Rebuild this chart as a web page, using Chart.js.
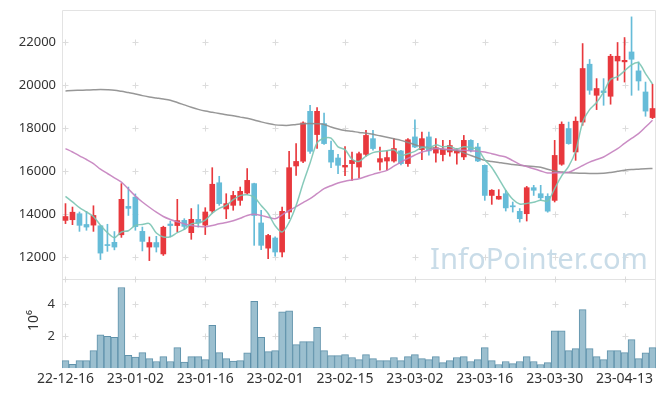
<!DOCTYPE html>
<html>
<head>
<meta charset="utf-8">
<script src="https://cdn.jsdelivr.net/npm/chart.js@4.4.0/dist/chart.umd.min.js"></script>
<style>
  html, body { margin: 0; padding: 0; background: #fff; }
  canvas { display: block; }
</style>
</head>
<body>
<canvas id="chart" width="665" height="396"></canvas>
<script>
// trading days shown on the x axis
const dates = [
  '22-12-16','22-12-19','22-12-20','22-12-21','22-12-22','22-12-23','22-12-26','22-12-27','22-12-28','22-12-29',
  '23-01-02','23-01-03','23-01-04','23-01-05','23-01-06','23-01-09','23-01-10','23-01-11','23-01-12','23-01-13',
  '23-01-16','23-01-17','23-01-18','23-01-19','23-01-20','23-01-25','23-01-26','23-01-27','23-01-30','23-01-31',
  '23-02-01','23-02-02','23-02-03','23-02-06','23-02-07','23-02-08','23-02-09','23-02-10','23-02-13','23-02-14',
  '23-02-15','23-02-16','23-02-17','23-02-20','23-02-21','23-02-22','23-02-23','23-02-24','23-02-27','23-02-28',
  '23-03-02','23-03-03','23-03-06','23-03-07','23-03-08','23-03-09','23-03-10','23-03-13','23-03-14','23-03-15',
  '23-03-16','23-03-17','23-03-20','23-03-21','23-03-22','23-03-23','23-03-24','23-03-27','23-03-28','23-03-29',
  '23-03-30','23-03-31','23-04-03','23-04-04','23-04-05','23-04-06','23-04-07','23-04-10','23-04-11','23-04-12',
  '23-04-13','23-04-14','23-04-17','23-04-18','23-04-19'
];

const openPrices = [
  13720,13750,14030,13530,13500,13470,12580,12700,13050,14370,
  14800,13210,12480,12690,12160,13550,13480,13720,13150,13770,
  13500,14160,15470,14250,14420,14650,14990,15430,13600,12430,
  12900,12250,14110,16250,16470,18790,17710,18220,16980,16620,
  16200,16360,16200,16790,17520,16430,16480,16480,16950,16360,
  17600,17010,17600,16850,16780,16900,16850,16670,17440,17130,
  16280,14880,14710,14960,14400,14140,14030,15240,14960,14840,
  14650,16330,17990,16900,18290,20980,19535,19740,19490,21130,
  21090,21550,20670,19690,18500
];
const highPrices = [
  14500,14340,14110,14140,14400,13500,13540,13200,15430,15270,
  14950,13410,12950,12980,13450,13690,14700,13800,14270,14450,
  14310,16170,15770,14960,15070,15270,16130,15450,14190,13070,
  12950,14340,16930,17290,18300,19070,18960,18710,17410,16790,
  17150,16900,16900,17910,17910,17130,16950,17520,16980,17520,
  18400,17830,17830,17520,17440,17440,17060,17670,17470,17300,
  16300,15150,15150,15117,14575,14270,15300,15350,15350,14960,
  17440,18300,18290,18530,21940,21200,20310,20310,21440,21990,
  22220,23180,21090,20150,20050
];
const lowPrices = [
  13570,13520,13210,13260,13210,11900,12280,12350,12930,13950,
  13260,12300,11850,12250,12090,12950,13180,13290,12840,13410,
  13060,14060,14420,13800,14190,14420,14930,12560,12360,11940,
  12060,12020,13800,15815,16400,16830,17060,17250,16170,15890,
  15800,15580,15710,16700,16980,16050,16050,16430,16300,16230,
  17100,16545,16750,16430,16480,16700,16330,16545,16900,16450,
  14650,14465,14700,14155,14107,13640,13690,14880,14650,14100,
  14575,16280,17260,16510,18140,19580,18870,19070,19120,20230,
  20150,19535,19770,18560,18450
];
const closePrices = [
  13900,14100,13490,13410,13950,12200,12550,12480,14700,14280,
  13430,12745,12690,12480,13400,13480,13710,13440,13770,13600,
  14110,15400,14500,14500,14880,15070,15580,13950,12560,13020,
  12250,14140,16170,16460,18250,16930,18790,17290,16430,16280,
  16280,16510,16820,17670,17060,16590,16640,17060,16360,17470,
  17130,17520,16950,17100,17020,17200,16930,17440,16980,16480,
  14880,15120,14840,14300,14350,13800,15240,15120,14770,14150,
  16740,18190,17290,18330,20780,19770,19850,19660,21350,21350,
  21160,21210,20200,18800,18920
];

// moving averages as drawn on the chart
const ma5 = [
  14840,14580,14310,14110,13900,13500,13150,12920,13180,13240,
  13490,13530,13570,13130,12950,12960,13150,13300,13560,13600,
  13730,14060,14280,14420,14680,14870,14910,14800,14410,14040,
  13470,13180,13630,14410,15450,16390,17320,17540,17540,17140,
  17010,16560,16460,16710,16870,16930,16960,17000,16740,16820,
  16930,17110,17090,17230,17140,17160,17040,17140,17110,17010,
  16540,16180,15660,15120,14700,14480,14510,14560,14660,14620,
  15200,15790,16230,16940,18270,18870,19200,19680,20280,20400,
  20670,20950,21050,20540,20060
];
const ma20 = [
  17056,16900,16720,16550,16360,16100,15900,15700,15500,15180,
  14850,14575,14330,14100,13900,13760,13650,13560,13480,13440,
  13420,13480,13560,13620,13700,13820,13950,14000,13950,13870,
  13800,13980,14180,14360,14550,14730,14960,15195,15330,15460,
  15540,15600,15660,15760,15860,15950,16047,16240,16430,16600,
  16760,16900,16980,17056,17040,17020,17000,16980,16950,16930,
  16900,16820,16740,16667,16500,16326,16220,16120,16020,15923,
  15930,15940,15953,16100,16270,16430,16550,16667,16860,17056,
  17300,17530,17753,18060,18372
];
const ma60 = [
  19740,19760,19770,19780,19790,19800,19790,19770,19720,19660,
  19600,19520,19460,19410,19360,19300,19200,19090,18980,18880,
  18800,18745,18690,18630,18580,18520,18465,18390,18300,18220,
  18160,18140,18140,18180,18210,18220,18210,18180,18060,17970,
  17900,17860,17810,17770,17720,17650,17580,17510,17440,17340,
  17240,17140,17100,17070,17030,17000,16970,16860,16740,16620,
  16510,16460,16410,16360,16320,16280,16250,16220,16190,16100,
  16020,15970,15930,15920,15910,15900,15900,15910,15950,16000,
  16050,16080,16100,16120,16130
];

// volume, in millions of shares
const volumes = [
  0.48,0.25,0.48,0.48,1.10,2.10,2.00,1.94,5.06,0.81,
  0.69,0.98,0.60,0.42,0.73,0.42,1.29,0.38,0.73,0.73,
  0.54,2.69,0.98,0.60,0.44,0.48,0.96,4.19,1.94,1.04,
  1.10,3.54,3.60,1.48,1.67,1.67,2.56,1.10,0.79,0.79,
  0.85,0.67,0.54,0.85,0.60,0.48,0.48,0.67,0.48,0.73,
  0.85,0.60,0.54,0.73,0.35,0.48,0.67,0.73,0.42,0.54,
  1.29,0.48,0.23,0.42,0.29,0.42,0.73,0.42,0.23,0.35,
  2.35,2.35,1.10,1.23,3.67,1.23,0.73,0.54,1.10,1.10,
  0.98,1.79,0.60,0.96,1.29
];

const priceTicks = [12000, 14000, 16000, 18000, 20000, 22000];
const volumeTicks = [2, 4];

const UP = '#e8383d';
const DOWN = '#66bcd8';
const candleColors = openPrices.map((o, i) => closePrices[i] >= o ? UP : DOWN);

const font = { family: '"Noto Sans", sans-serif', size: 13 };

// crosses at grid intersections, panel frame, watermark and the 10^6 unit
const decorations = {
  id: 'decorations',
  beforeDatasetsDraw(chart) {
    const { ctx, chartArea, scales } = chart;
    const { x, y, yv } = scales;
    ctx.save();

    ctx.strokeStyle = '#e3e3e3';
    ctx.lineWidth = 1;
    ctx.beginPath();
    ctx.moveTo(chartArea.left + 0.5, chartArea.bottom);
    ctx.lineTo(chartArea.left + 0.5, chartArea.top + 0.5);
    ctx.lineTo(chartArea.right - 0.5, chartArea.top + 0.5);
    ctx.lineTo(chartArea.right - 0.5, chartArea.bottom);
    ctx.moveTo(chartArea.left, Math.round(yv.top) + 0.5);
    ctx.lineTo(chartArea.right, Math.round(yv.top) + 0.5);
    ctx.stroke();

    const xs = [];
    dates.forEach((d, i) => { if (i % 10 === 0) xs.push(Math.round(x.getPixelForValue(i)) + 0.5); });
    const ys = priceTicks.map(v => y.getPixelForValue(v))
      .concat(volumeTicks.map(v => yv.getPixelForValue(v)))
      .concat([yv.top]);
    ctx.strokeStyle = '#dcdcdc';
    ctx.beginPath();
    xs.forEach(px => {
      ys.forEach(py => {
        py = Math.round(py) + 0.5;
        ctx.moveTo(px - 3, py); ctx.lineTo(px + 3, py);
        ctx.moveTo(px, py - 3); ctx.lineTo(px, py + 3);
      });
    });
    ctx.stroke();

    // watermark
    ctx.fillStyle = '#c9dce8';
    let size = 34;
    ctx.font = size + 'px "Noto Sans", sans-serif';
    const w = ctx.measureText('InfoPointer.com').width;
    size = size * 218 / w;
    ctx.font = size + 'px "Noto Sans", sans-serif';
    ctx.textBaseline = 'alphabetic';
    ctx.fillText('InfoPointer.com', 430, 269);

    // unit label of the volume pane
    ctx.translate(34, (yv.top + yv.bottom) / 2 - 3);
    ctx.rotate(-Math.PI / 2);
    ctx.fillStyle = '#333';
    ctx.font = '14px "Noto Sans", sans-serif';
    ctx.textAlign = 'center';
    ctx.textBaseline = 'middle';
    ctx.fillText('10\u2076', 0, 0);
    ctx.restore();
  }
};

// fixed axis width, and no extra room reserved for half tick labels
const fixWidth = scale => {
  scale.width = 62;
  scale.paddingTop = 0;
  scale.paddingBottom = 0;
};

new Chart(document.getElementById('chart'), {
  type: 'bar',
  data: {
    labels: dates,
    datasets: [
      { type: 'line', label: 'MA5', data: ma5, yAxisID: 'y', borderColor: 'rgba(122,196,178,0.9)',
        borderWidth: 1.5, pointRadius: 0, tension: 0.3, order: 0 },
      { type: 'line', label: 'MA20', data: ma20, yAxisID: 'y', borderColor: 'rgba(196,128,190,0.9)',
        borderWidth: 1.5, pointRadius: 0, tension: 0.3, order: 0 },
      { type: 'line', label: 'MA60', data: ma60, yAxisID: 'y', borderColor: 'rgba(140,140,140,0.9)',
        borderWidth: 1.5, pointRadius: 0, tension: 0.3, order: 0 },
      { label: 'body', data: openPrices.map((o, i) => [o, closePrices[i]]), yAxisID: 'y',
        backgroundColor: candleColors, barThickness: 5, minBarLength: 1, grouped: false, order: 1 },
      { label: 'wick', data: lowPrices.map((l, i) => [l, highPrices[i]]), yAxisID: 'y',
        backgroundColor: candleColors, barThickness: 1, grouped: false, order: 2 },
      { label: 'volume', data: volumes, yAxisID: 'yv', backgroundColor: '#9bbfcf',
        borderColor: '#5f92ab', borderWidth: 1, barPercentage: 1, categoryPercentage: 1,
        grouped: false, order: 3 }
    ]
  },
  options: {
    responsive: false,
    animation: false,
    devicePixelRatio: 1,
    layout: { padding: { top: 10, right: 9, bottom: 7, left: 0 } },
    plugins: { legend: { display: false }, tooltip: { enabled: false } },
    scales: {
      x: {
        type: 'category',
        offset: true,
        grid: { display: false, drawTicks: false },
        border: { display: false },
        ticks: {
          autoSkip: false, maxRotation: 0, padding: 2, color: '#333',
          font: { family: font.family, size: 14 },
          callback: v => (v % 10 === 0 ? dates[v] : '')
        }
      },
      yv: {
        type: 'linear', position: 'left', stack: 'panes', stackWeight: 89,
        min: 0, max: 5.6,
        grid: { display: false, drawTicks: false },
        border: { display: false },
        afterFit: fixWidth,
        afterBuildTicks: scale => { scale.ticks = volumeTicks.map(v => ({ value: v })); },
        ticks: { padding: 7, color: '#333', font, callback: v => String(v) }
      },
      y: {
        type: 'linear', position: 'left', stack: 'panes', stackWeight: 268,
        min: 11000, max: 23500,
        grid: { display: false, drawTicks: false },
        border: { display: false },
        afterFit: fixWidth,
        afterBuildTicks: scale => { scale.ticks = priceTicks.map(v => ({ value: v })); },
        ticks: { padding: 6, color: '#333', font, callback: v => String(v) }
      }
    }
  },
  plugins: [decorations]
});
</script>
</body>
</html>
